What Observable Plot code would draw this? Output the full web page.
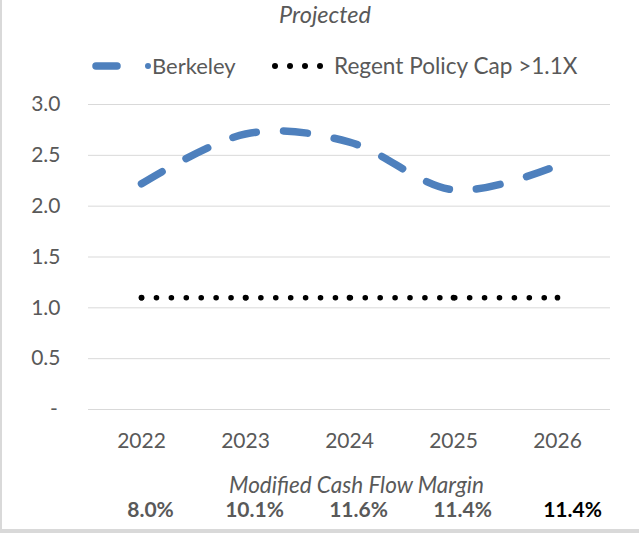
<!DOCTYPE html>
<html><head><meta charset="utf-8">
<script src="https://cdn.jsdelivr.net/npm/d3@7"></script>
<script src="https://cdn.jsdelivr.net/npm/@observablehq/plot@0.6"></script>
<style>
body{margin:0;background:#fff;}
#wrap{position:relative;width:639px;height:533px;overflow:hidden;background:#fff;font-family:Lato,"Open Sans",sans-serif;color:#595959;}
#chart{position:absolute;left:0;top:0;}
#lb{position:absolute;left:0;top:0;width:2px;height:533px;background:#d9d9d9;}
#bb{position:absolute;left:0;top:529px;width:639px;height:4px;background:#d9d9d9;}
#title{position:absolute;left:325px;top:1px;transform:translateX(-50%);font-style:italic;font-size:23.5px;line-height:26px;white-space:nowrap;}
.lg{position:absolute;top:53px;font-size:22px;line-height:26px;white-space:nowrap;}
#lgsvg{position:absolute;left:0;top:0;}
</style></head>
<body>
<div id="wrap">
  <div id="chart"></div>
  <div id="lb"></div>
  <div id="bb"></div>
  <div id="title">Projected</div>
  <svg id="lgsvg" width="639" height="90">
    <line x1="96" y1="66" x2="117" y2="66" stroke="#4e80bd" stroke-width="7.5" stroke-linecap="round"/>
    <circle cx="148" cy="66" r="3" fill="#4e80bd"/>
    <circle cx="275" cy="66" r="3" fill="#000"/>
    <circle cx="290" cy="66" r="3" fill="#000"/>
    <circle cx="305" cy="66" r="3" fill="#000"/>
    <circle cx="320" cy="66" r="3" fill="#000"/>
  </svg>
  <div class="lg" style="left:152px">Berkeley</div>
  <div class="lg" style="left:334px;font-size:22.6px">Regent Policy Cap &gt;1.1X</div>
</div>
<script>
const years = ["2022", "2023", "2024", "2025", "2026"];
const berkeley = [2.22, 2.71, 2.63, 2.16, 2.40];
const policyCap = [1.1, 1.1, 1.1, 1.1, 1.1];
const margins = ["8.0%", "10.1%", "11.6%", "11.4%", "11.4%"];
const yTicks = [0, 0.5, 1, 1.5, 2, 2.5, 3];
const footTitle = "Modified Cash Flow Margin";

const rows = years.map((y, i) => ({year: y, berkeley: berkeley[i], cap: policyCap[i], margin: margins[i]}));

const chart = Plot.plot({
  width: 639,
  height: 529,
  marginTop: 104,
  marginBottom: 120,
  marginLeft: 88,
  marginRight: 29,
  style: "font-family:Lato,'Open Sans',sans-serif;font-size:21px;color:#595959;background:transparent;overflow:visible;",
  x: {type: "point", domain: years, padding: 0.5, tickSize: 0, tickPadding: 24, label: null},
  y: {domain: [0, 3], ticks: yTicks, tickSize: 0, tickPadding: 28, label: null,
      tickFormat: d => d === 0 ? "-\u2009" : d.toFixed(1)},
  marks: [
    Plot.ruleY(yTicks, {stroke: "#d9d9d9", strokeWidth: 1}),
    Plot.line(rows, {x: "year", y: "cap", stroke: "#000", strokeWidth: 5.5,
      strokeDasharray: "0.1 14.814", strokeLinecap: "round"}),
    Plot.dot(rows, {x: "year", y: "cap", fill: "#000", r: 2.8}),
    Plot.line(rows, {x: "year", y: "berkeley", stroke: "#4e80bd", strokeWidth: 7.5,
      strokeDasharray: "24 27.3", strokeLinecap: "round", curve: "cardinal", tension: 0}),
    Plot.text([footTitle], {text: d => d, frameAnchor: "bottom", dy: 83, dx: 7, fontStyle: "italic", fontSize: 22.5, fill: "#595959"}),
    Plot.text(rows.slice(0, 4), {x: "year", text: "margin", frameAnchor: "bottom", dy: 107, dx: 9, fontWeight: "bold", fill: "#595959"}),
    Plot.text(rows.slice(4), {x: "year", text: "margin", frameAnchor: "bottom", dy: 107, dx: 15, fontWeight: "bold", fill: "#000"})
  ]
});
document.getElementById("chart").appendChild(chart);
</script>
</body></html>
